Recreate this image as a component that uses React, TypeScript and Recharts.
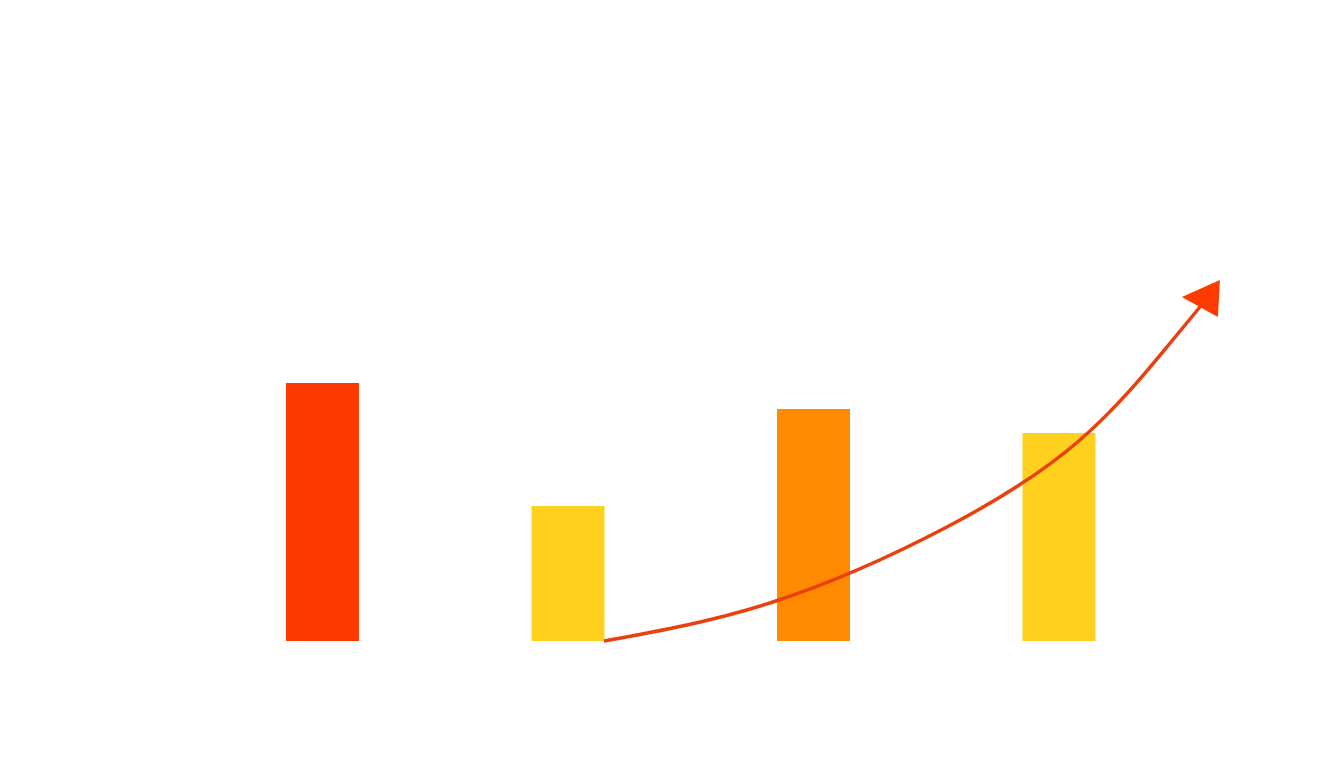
import { ComposedChart, Bar, Line, XAxis, YAxis, Cell } from 'recharts';

const categories = ['A', 'B', 'C', 'D'];
const barValues = [258, 135, 232, 208];
const barColors = ['#FF3800', '#FFD11E', '#FF8A00', '#FFD11E'];

// trend arrow, x in category units (0..4), y in value units
const trendX = [1.646, 2.334, 3.043, 3.585, 3.939, 4.094];
const trendY = [0, 39, 114, 201, 294, 340];

const barData = categories.map((name, i) => ({ name, value: barValues[i] }));
const trendData = trendX.map((x, i) => ({ x, y: trendY[i] }));

const ArrowHead = (props: { cx?: number; cy?: number; index?: number }) => {
  const { cx, cy, index } = props;
  if (index !== trendData.length - 1 || cx == null || cy == null) return <g key={index} />;
  const pts = `${cx + 15},${cy - 21} ${cx - 23},${cy - 4} ${cx + 13},${cy + 16}`;
  return <polygon key={index} points={pts} fill="#FF3A00" />;
};

const App = () => {
  return (
    <div style={{ position: 'fixed', left: 0, top: 0, width: 1344, height: 768, background: '#fff' }}>
      <ComposedChart
        width={1344}
        height={768}
        data={barData}
        margin={{ top: 241, right: 0, bottom: 127, left: 0 }}
      >
        <XAxis
          dataKey="name"
          xAxisId="cat"
          padding={{ left: 200, right: 162 }}
          tick={false}
          tickLine={false}
          axisLine={{ stroke: '#ececec', strokeWidth: 1 }}
          height={0}
        />
        <XAxis
          dataKey="x"
          xAxisId="trend"
          type="number"
          domain={[0, 4.4]}
          padding={{ left: 200, right: 64 }}
          hide
        />
        <YAxis yAxisId="v" domain={[0, 400]} hide />
        <Bar dataKey="value" xAxisId="cat" yAxisId="v" barSize={73} isAnimationActive={false}>
          {barData.map((_, i) => (
            <Cell key={i} fill={barColors[i]} />
          ))}
        </Bar>
        <Line
          data={trendData}
          dataKey="y"
          xAxisId="trend"
          yAxisId="v"
          type="natural"
          stroke="#E8400F"
          strokeWidth={3.5}
          dot={ArrowHead}
          activeDot={false}
          isAnimationActive={false}
        />
      </ComposedChart>
    </div>
  );
};

export default App;
